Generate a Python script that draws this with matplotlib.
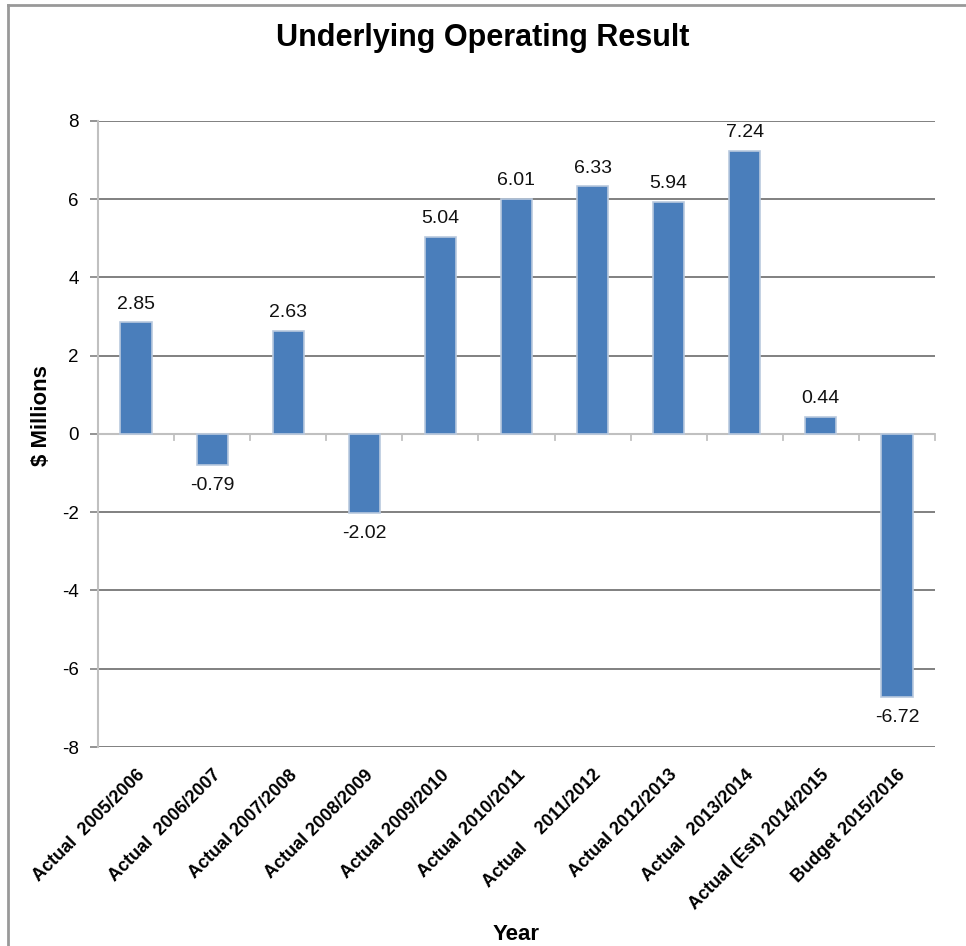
import numpy as np
import matplotlib.pyplot as plt
from matplotlib.lines import Line2D

plt.rcParams['font.family'] = ['Liberation Sans', 'DejaVu Sans']
plt.rcParams['axes.unicode_minus'] = False

years = ['Actual  2005/2006', 'Actual  2006/2007', 'Actual 2007/2008',
         'Actual 2008/2009', 'Actual 2009/2010', 'Actual 2010/2011',
         'Actual    2011/2012', 'Actual 2012/2013', 'Actual  2013/2014',
         'Actual (Est) 2014/2015', 'Budget 2015/2016']
result = [2.85, -0.79, 2.63, -2.02, 5.04, 6.01, 6.33, 5.94, 7.24, 0.44, -6.72]

fig = plt.figure(figsize=(9.66, 9.46), dpi=100)
ax = fig.add_axes([98 / 966, 1 - 747 / 946, 837 / 966, 626 / 946])

x = np.arange(len(result))
ax.bar(x, result, width=0.41, color='#4a7ebb', edgecolor='#b9c9de',
       linewidth=1.2, zorder=3)

for xi, v in zip(x, result):
    off = 0.25 if v >= 0 else -0.3
    ax.text(xi, v + off, f'{v:.2f}', ha='center',
            va='bottom' if v >= 0 else 'top', fontsize=14, color='#111111')

ax.set_xlim(-0.5, len(result) - 0.5)
ax.set_ylim(-8, 8)
ax.set_yticks(np.arange(-8, 9, 2))
ax.grid(axis='y', color='#808080', linewidth=1.4, zorder=0)
ax.set_axisbelow(True)

# category axis drawn along zero
ax.axhline(0, color='#c0c0c0', linewidth=1.5, zorder=2)
for b in np.arange(-0.5, len(result), 1.0):
    ax.plot([b, b], [0, -0.15], color='#c0c0c0', linewidth=1.3, zorder=2,
            clip_on=False)

for s in ['top', 'right', 'bottom']:
    ax.spines[s].set_visible(False)
ax.spines['left'].set_color('#c0c0c0')
ax.spines['left'].set_linewidth(1.5)

ax.tick_params(axis='y', length=6, color='#808080', labelsize=13.5, pad=8,
               width=1.2)
ax.tick_params(axis='x', length=0, pad=14)
ax.set_xticks(x)
ax.set_xticklabels(years, rotation=45, ha='right', rotation_mode='anchor',
                   fontsize=13, fontweight='bold')

ax.set_ylabel('$ Millions', fontsize=16, fontweight='bold')
ax.yaxis.set_label_coords(-0.055, 0.53)
ax.set_xlabel('Year', fontsize=16, fontweight='bold')
ax.xaxis.set_label_coords(0.5, -0.282)
fig.text(0.5, 1 - 38 / 946, 'Underlying Operating Result', ha='center',
         va='center', fontsize=22, fontweight='bold')

# outer frame (top and left edges)
fig.add_artist(Line2D([8 / 966, 1], [1 - 5 / 946, 1 - 5 / 946],
                      color='#999999', linewidth=2, transform=fig.transFigure))
fig.add_artist(Line2D([8 / 966, 8 / 966], [0, 1 - 5 / 946],
                      color='#999999', linewidth=2, transform=fig.transFigure))

fig.savefig('out.png', dpi=100)
